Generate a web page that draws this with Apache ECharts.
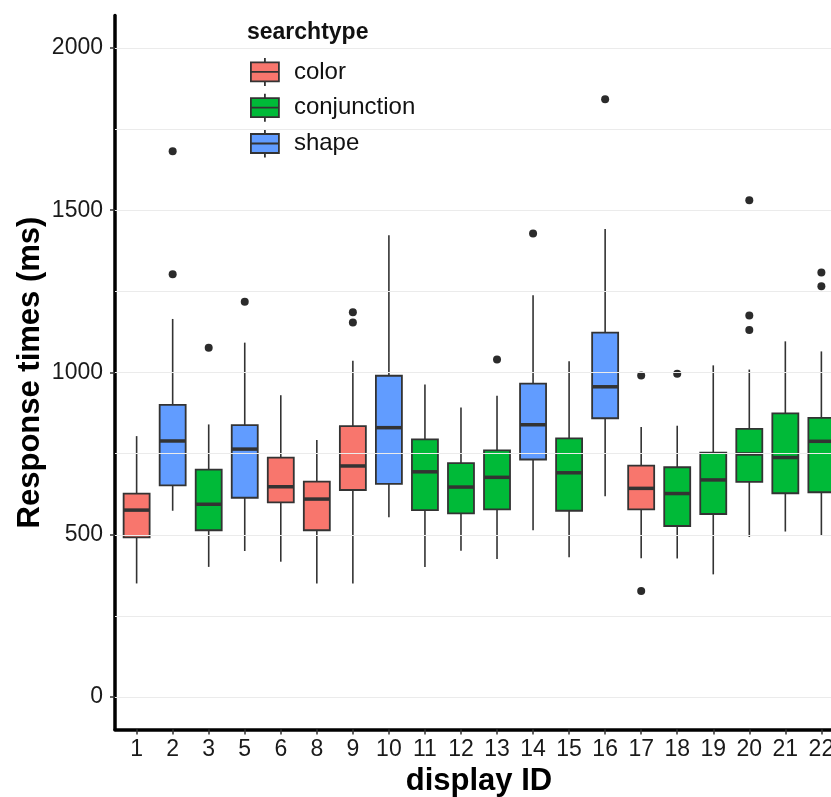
<!DOCTYPE html>
<html>
<head>
    <meta charset="utf-8">
    <title>Response times by display</title>
    <script src="https://cdn.jsdelivr.net/npm/echarts@6/dist/echarts.min.js"></script>
</head>
<body style="margin: 0;height:100%;background:#fff;">
<div id="main" style="width: 831px;height: 797px;"></div>
<script type="text/javascript">
    // display ids and their search type
    var ids = ['1', '2', '3', '5', '6', '8', '9', '10', '11', '12', '13', '14', '15', '16', '17', '18', '19', '20', '21', '22'];
    var types = ['color', 'shape', 'conjunction', 'shape', 'color', 'color', 'color', 'shape', 'conjunction', 'conjunction',
        'conjunction', 'shape', 'conjunction', 'shape', 'color', 'conjunction', 'conjunction', 'conjunction', 'conjunction', 'conjunction'];

    // box statistics (ms)
    var lowWhisker = [350, 574, 401, 450, 417, 350, 350, 554, 401, 451, 425, 514, 431, 619, 428, 427, 378, 493, 510, 497];
    var q1 = [492, 652, 514, 614, 600, 514, 638, 657, 576, 566, 578, 732, 574, 859, 578, 527, 564, 663, 628, 631];
    var median = [576, 789, 594, 764, 648, 610, 712, 830, 694, 647, 677, 839, 691, 956, 643, 627, 669, 749, 738, 788];
    var q3 = [627, 900, 701, 838, 738, 664, 835, 990, 794, 721, 760, 966, 797, 1123, 713, 708, 753, 826, 874, 860];
    var highWhisker = [804, 1165, 840, 1092, 930, 792, 1036, 1423, 963, 892, 928, 1238, 1035, 1442, 832, 836, 1022, 1009, 1096, 1065];

    // outliers
    var outlierIds = ['2', '2', '3', '5', '9', '9', '13', '14', '16', '17', '17', '18', '20', '20', '20', '22', '22'];
    var outlierValues = [1303, 1682, 1076, 1218, 1186, 1154, 1040, 1428, 1842, 991, 327, 996, 1531, 1176, 1131, 1308, 1266];

    var yTicks = [0, 500, 1000, 1500, 2000];
    var gridValues = [0, 250, 500, 750, 1000, 1250, 1500, 1750, 2000];

    var groups = ['color', 'conjunction', 'shape'];
    var groupColors = {color: '#F8766D', conjunction: '#00BA38', shape: '#619CFF'};

    var font = "'Liberation Sans', Arial, sans-serif";
    var ink = '#333333';

    var boxData = ids.map(function (id, i) {
        return [i + 1, lowWhisker[i], q1[i], median[i], q3[i], highWhisker[i]];
    });
    var outlierData = outlierIds.map(function (id, i) {
        return [ids.indexOf(id) + 1, outlierValues[i]];
    });
    var xPositions = ids.map(function (id, i) { return i + 1; });

    var myChart = echarts.init(document.getElementById('main'));

    var halfBox = 13;
    function renderBox(params, api) {
        var x = api.value(0);
        var lo = api.coord([x, api.value(1)]);
        var b1 = api.coord([x, api.value(2)]);
        var md = api.coord([x, api.value(3)]);
        var b3 = api.coord([x, api.value(4)]);
        var hi = api.coord([x, api.value(5)]);
        var fill = groupColors[types[params.dataIndex]];
        var line = {stroke: ink, lineWidth: 1.6};
        return {
            type: 'group',
            children: [
                {type: 'line', shape: {x1: lo[0], y1: lo[1], x2: b1[0], y2: b1[1]}, style: line},
                {type: 'line', shape: {x1: b3[0], y1: b3[1], x2: hi[0], y2: hi[1]}, style: line},
                {
                    type: 'rect',
                    shape: {x: b3[0] - halfBox, y: b3[1], width: halfBox * 2, height: b1[1] - b3[1]},
                    style: {fill: fill, stroke: ink, lineWidth: 1.8}
                },
                {
                    type: 'line',
                    shape: {x1: md[0] - halfBox, y1: md[1], x2: md[0] + halfBox, y2: md[1]},
                    style: {stroke: ink, lineWidth: 3.5}
                }
            ]
        };
    }

    var legendIcon = 'path://M0,4.5L28,4.5L28,23.5L0,23.5Z M0,14L28,14 M14,0L14,4.5 M14,23.5L14,28';

    var series = [
        {
            name: 'grid',
            type: 'line',
            data: [],
            z: 0,
            silent: true,
            markLine: {
                silent: true,
                symbol: ['none', 'none'],
                label: {show: false},
                lineStyle: {color: '#EBEBEB', type: 'solid', width: 1.2},
                data: gridValues.map(function (v) { return {yAxis: v}; })
            }
        },
        {
            name: 'boxes',
            type: 'custom',
            renderItem: renderBox,
            encode: {x: 0, y: [1, 2, 3, 4, 5]},
            data: boxData,
            z: 3
        },
        {
            name: 'outliers',
            type: 'scatter',
            symbol: 'circle',
            symbolSize: 8,
            itemStyle: {color: '#2b2b2b', opacity: 1},
            data: outlierData,
            z: 4
        }
    ];
    groups.forEach(function (g) {
        series.push({
            name: g,
            type: 'scatter',
            data: [],
            itemStyle: {color: groupColors[g], borderColor: ink, borderWidth: 1.8, opacity: 1}
        });
    });

    var option = {
        animation: false,
        backgroundColor: '#fff',
        textStyle: {fontFamily: font},
        title: {
            text: 'searchtype',
            left: 247,
            top: 21,
            padding: 0,
            textStyle: {fontFamily: font, fontSize: 23, fontWeight: 'bold', color: '#111'}
        },
        legend: {
            orient: 'vertical',
            left: 237,
            top: 16,
            padding: [41, 11, 10, 13],
            backgroundColor: '#fff',
            itemWidth: 28,
            itemHeight: 28,
            itemGap: 6,
            selectedMode: false,
            textStyle: {fontFamily: font, fontSize: 24, color: '#111', padding: [0, 0, 0, 10]},
            data: groups.map(function (g) {
                return {
                    name: g,
                    icon: legendIcon,
                    itemStyle: {color: groupColors[g], borderColor: ink, borderWidth: 1.8, opacity: 1}
                };
            })
        },
        grid: {
            left: 115,
            right: -12,
            top: 15.5,
            bottom: 67.5,
            containLabel: false,
            outerBoundsMode: 'none'
        },
        xAxis: {
            type: 'value',
            min: 0.4,
            max: 20.6,
            name: 'display ID',
            nameLocation: 'middle',
            nameGap: 36,
            nameMoveOverlap: false,
            nameTextStyle: {fontFamily: font, fontSize: 31, fontWeight: 'bold', color: '#000'},
            axisLine: {show: true, onZero: false, lineStyle: {color: '#000', width: 3.5}},
            axisTick: {show: true, length: 5, customValues: xPositions, lineStyle: {color: ink, width: 1.5}},
            axisLabel: {
                show: true,
                margin: 9,
                fontFamily: font,
                fontSize: 23,
                color: '#1a1a1a',
                customValues: xPositions,
                formatter: function (v) { return ids[Math.round(v) - 1]; }
            },
            splitLine: {show: false}
        },
        yAxis: {
            type: 'value',
            min: -100,
            max: 2100,
            name: 'Response times (ms)',
            nameLocation: 'middle',
            nameGap: 69,
            nameMoveOverlap: false,
            nameTextStyle: {fontFamily: font, fontSize: 31, fontWeight: 'bold', color: '#000'},
            axisLine: {show: true, onZero: false, lineStyle: {color: '#000', width: 3.5}},
            axisTick: {show: true, length: 5, customValues: yTicks, lineStyle: {color: ink, width: 1.5}},
            axisLabel: {
                show: true,
                margin: 12,
                fontFamily: font,
                fontSize: 23,
                color: '#1a1a1a',
                customValues: yTicks,
                formatter: function (v) { return String(v); }
            },
            splitLine: {show: false}
        },
        series: series
    };

    myChart.setOption(option);
</script>
</body>
</html>
